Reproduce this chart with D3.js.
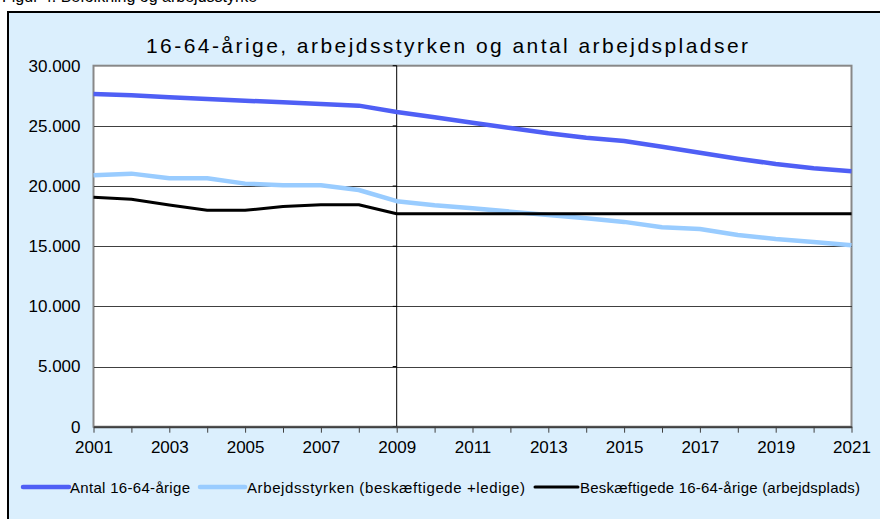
<!DOCTYPE html>
<meta charset="utf-8">
<style>
body { margin: 0; background: #fff; }
svg text { font-family: "Liberation Sans", Arial, sans-serif; fill: #000; }
.grid line { stroke: #404040; stroke-width: 1; shape-rendering: crispEdges; }
.grid path { display: none; }
.xaxis path { stroke: #404040; stroke-width: 2; }
.xaxis line { stroke: #404040; stroke-width: 1; }
.yaxis path, .yaxis line { stroke: none; }
</style>
<body>
<script src="https://cdnjs.cloudflare.com/ajax/libs/d3/7.8.5/d3.min.js"></script>
<script>

var years = d3.range(2001, 2022);
var yearLabels = [2001, 2003, 2005, 2007, 2009, 2011, 2013, 2015, 2017, 2019, 2021];
var yTicks = [0, 5000, 10000, 15000, 20000, 25000, 30000];

var antal = [27640, 27540, 27370, 27230, 27090, 26960, 26820, 26680, 26150, 25710,
             25260, 24820, 24380, 24020, 23740, 23270, 22770, 22270, 21830, 21470, 21220];
var arbejdsstyrken = [20890, 21030, 20640, 20640, 20200, 20060, 20060, 19670, 18740, 18400,
                      18150, 17870, 17590, 17320, 17020, 16570, 16430, 15930, 15600, 15350, 15080];
var beskaeftigede = [19060, 18900, 18430, 17980, 17980, 18290, 18450, 18450, 17700, 17700,
                     17700, 17700, 17700, 17700, 17700, 17700, 17700, 17700, 17700, 17700, 17700];

var seriesNames = ["Antal 16-64-årige", "Arbejdsstyrken (beskæftigede +ledige)", "Beskæftigede 16-64-årige (arbejdsplads)"];
var titleText = "16-64-årige, arbejdsstyrken og antal arbejdspladser";

var series = [
  {name: seriesNames[0], values: antal, color: "#4f5ff5", width: 4.5},
  {name: seriesNames[1], values: arbejdsstyrken, color: "#99ccff", width: 4.5},
  {name: seriesNames[2], values: beskaeftigede, color: "#000000", width: 3}
];

var W = 880, H = 519;
var plot = {left: 93.5, right: 851.5, top: 65.7, bottom: 426.7};

var svg = d3.select("body").append("svg")
    .attr("width", W)
    .attr("height", H);

// caption above the frame, cut by the top edge like in the source
svg.append("text")
    .attr("x", 2)
    .attr("y", 1.5)
    .style("font-size", "16px")
    .text("Figur 4. Befolkning og arbejdsstyrke");

// chart frame
svg.append("rect")
    .attr("x", 8)
    .attr("y", 12)
    .attr("width", W)
    .attr("height", H)
    .attr("fill", "#dbeffd")
    .attr("stroke", "#000")
    .attr("stroke-width", 2);

var x = d3.scaleLinear()
    .domain([2001, 2021])
    .range([plot.left, plot.right]);

var y = d3.scaleLinear()
    .domain([0, 30000])
    .range([plot.bottom, plot.top]);

var locale = d3.formatLocale({decimal: ",", thousands: ".", grouping: [3], currency: ["", ""]});
var fmt = locale.format(",");

// plot area
svg.append("rect")
    .attr("x", plot.left)
    .attr("y", plot.top)
    .attr("width", plot.right - plot.left)
    .attr("height", plot.bottom - plot.top)
    .attr("fill", "#fff")
    .attr("stroke", "#888")
    .attr("stroke-width", 2);

// horizontal gridlines
svg.append("g")
    .attr("class", "grid")
    .attr("transform", "translate(" + plot.left + ",0)")
    .call(d3.axisRight(y).tickValues(yTicks.slice(1, -1)).tickSize(plot.right - plot.left).tickFormat(""));

// vertical axis line at 2009 with small ticks
var cross = svg.append("g").attr("transform", "translate(" + x(2009) + ",0)");
cross.append("line")
    .attr("y1", plot.top)
    .attr("y2", plot.bottom)
    .attr("stroke", "#000")
    .attr("stroke-width", 1);
cross.selectAll(".tk")
    .data(yTicks)
  .enter().append("line")
    .attr("x1", -4)
    .attr("x2", 0)
    .attr("y1", function(d) { return y(d); })
    .attr("y2", function(d) { return y(d); })
    .attr("stroke", "#000");

// y labels on the left
svg.append("g")
    .attr("class", "yaxis")
    .attr("transform", "translate(" + (plot.left - 13) + ",0)")
    .call(d3.axisLeft(y).tickValues(yTicks).tickSize(0).tickFormat(fmt))
  .selectAll("text")
    .attr("x", 0)
    .style("font-size", "17px");

// x axis
var xAxis = svg.append("g")
    .attr("class", "xaxis")
    .attr("transform", "translate(0," + plot.bottom + ")")
    .call(d3.axisBottom(x).tickValues(years).tickSize(6).tickSizeOuter(0).tickFormat(function(d) {
      return yearLabels.indexOf(d) >= 0 ? d : "";
    }));
xAxis.selectAll("text")
    .attr("y", 14)
    .style("font-size", "17px");

// lines
var line = d3.line()
    .x(function(d, i) { return x(years[i]); })
    .y(function(d) { return y(d); });

svg.selectAll(".series")
    .data(series)
  .enter().append("path")
    .attr("class", "series")
    .attr("d", function(d) { return line(d.values); })
    .attr("fill", "none")
    .attr("stroke", function(d) { return d.color; })
    .attr("stroke-width", function(d) { return d.width; })
    .attr("stroke-linejoin", "round");

// title
svg.append("text")
    .attr("x", 146)
    .attr("y", 53)
    .attr("textLength", 602)
    .attr("lengthAdjust", "spacing")
    .style("font-size", "21px")
    .text(titleText);

// legend
var legendPos = [
  {x1: 23, x2: 69, tx: 70, len: 120},
  {x1: 200, x2: 245, tx: 247, len: 278},
  {x1: 535, x2: 578, tx: 580, len: 280}
];

var legend = svg.selectAll(".legend")
    .data(series)
  .enter().append("g")
    .attr("class", "legend");

legend.append("line")
    .attr("x1", function(d, i) { return legendPos[i].x1; })
    .attr("x2", function(d, i) { return legendPos[i].x2; })
    .attr("y1", 487)
    .attr("y2", 487)
    .attr("stroke", function(d) { return d.color; })
    .attr("stroke-width", function(d) { return d.width; })
    .attr("stroke-linecap", "round");

legend.append("text")
    .attr("x", function(d, i) { return legendPos[i].tx; })
    .attr("y", 492.5)
    .attr("textLength", function(d, i) { return legendPos[i].len; })
    .attr("lengthAdjust", "spacing")
    .style("font-size", "15px")
    .text(function(d) { return d.name; });

</script>
